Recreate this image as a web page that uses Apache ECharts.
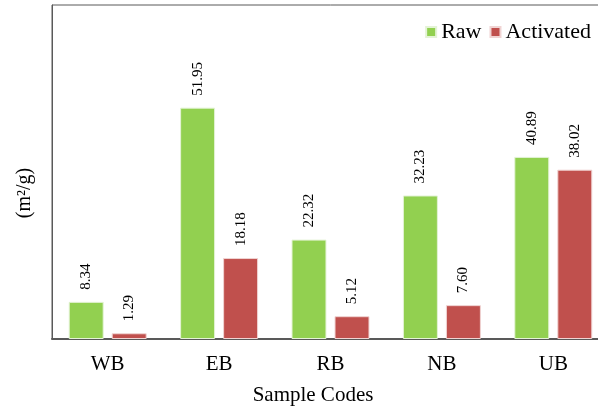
<!DOCTYPE html>
<html><head><meta charset="utf-8">
<script src="https://cdn.jsdelivr.net/npm/echarts@6/dist/echarts.min.js"></script>
<style>html,body{margin:0;padding:0;background:#fff;overflow:hidden}#c{width:610px;height:410px}</style>
</head><body><div id="c"></div>
<script>
const categories = ['WB', 'EB', 'RB', 'NB', 'UB'];
const rawValues = [8.34, 51.95, 22.32, 32.23, 40.89];
const activatedValues = [1.29, 18.18, 5.12, 7.60, 38.02];
const seriesNames = ['Raw', 'Activated'];
const yTitle = '(m²/g)';
const xTitle = 'Sample Codes';

const chart = echarts.init(document.getElementById('c'));
const serif = 'Liberation Serif';
const labelCfg = {
  show: true, position: 'top', rotate: 90, align: 'left', verticalAlign: 'middle',
  distance: 12, fontFamily: serif, fontSize: 15, color: '#000',
  formatter: p => p.value.toFixed(2)
};
chart.setOption({
  animation: false,
  grid: { left: 52, top: 5, right: 1, bottom: 71, show: true, borderColor: '#595959', borderWidth: 1 },
  legend: {
    data: seriesNames, right: 14, top: 16, icon: 'rect', itemWidth: 10, itemHeight: 10,
    itemGap: 8, textStyle: { fontFamily: serif, fontSize: 22, color: '#000' }
  },
  xAxis: {
    type: 'category', data: categories,
    axisLine: { lineStyle: { color: '#595959', width: 2 } },
    axisTick: { show: false },
    axisLabel: { fontFamily: serif, fontSize: 21, color: '#000', margin: 15 }
  },
  yAxis: {
    type: 'value', min: 0, max: 75,
    axisLine: { show: true, lineStyle: { color: '#595959', width: 1 } },
    axisTick: { show: false }, axisLabel: { show: false }, splitLine: { show: false }
  },
  graphic: [
    { type: 'text', x: 25, y: 193, rotation: Math.PI / 2,
      style: { text: yTitle, fontFamily: serif, fontSize: 20, fill: '#000', align: 'center', verticalAlign: 'middle' } },
    { type: 'text', x: 313, y: 395,
      style: { text: xTitle, fontFamily: serif, fontSize: 21, fill: '#000', align: 'center', verticalAlign: 'middle' } }
  ],
  series: [
    { name: seriesNames[0], type: 'bar', data: rawValues, barGap: '23%', barCategoryGap: '30%',
      itemStyle: { color: '#92D050', borderColor: '#E4F3D6', borderWidth: 1 }, label: labelCfg },
    { name: seriesNames[1], type: 'bar', data: activatedValues,
      itemStyle: { color: '#C0504D', borderColor: '#F0D4D3', borderWidth: 1 }, label: labelCfg }
  ]
});
</script></body></html>
